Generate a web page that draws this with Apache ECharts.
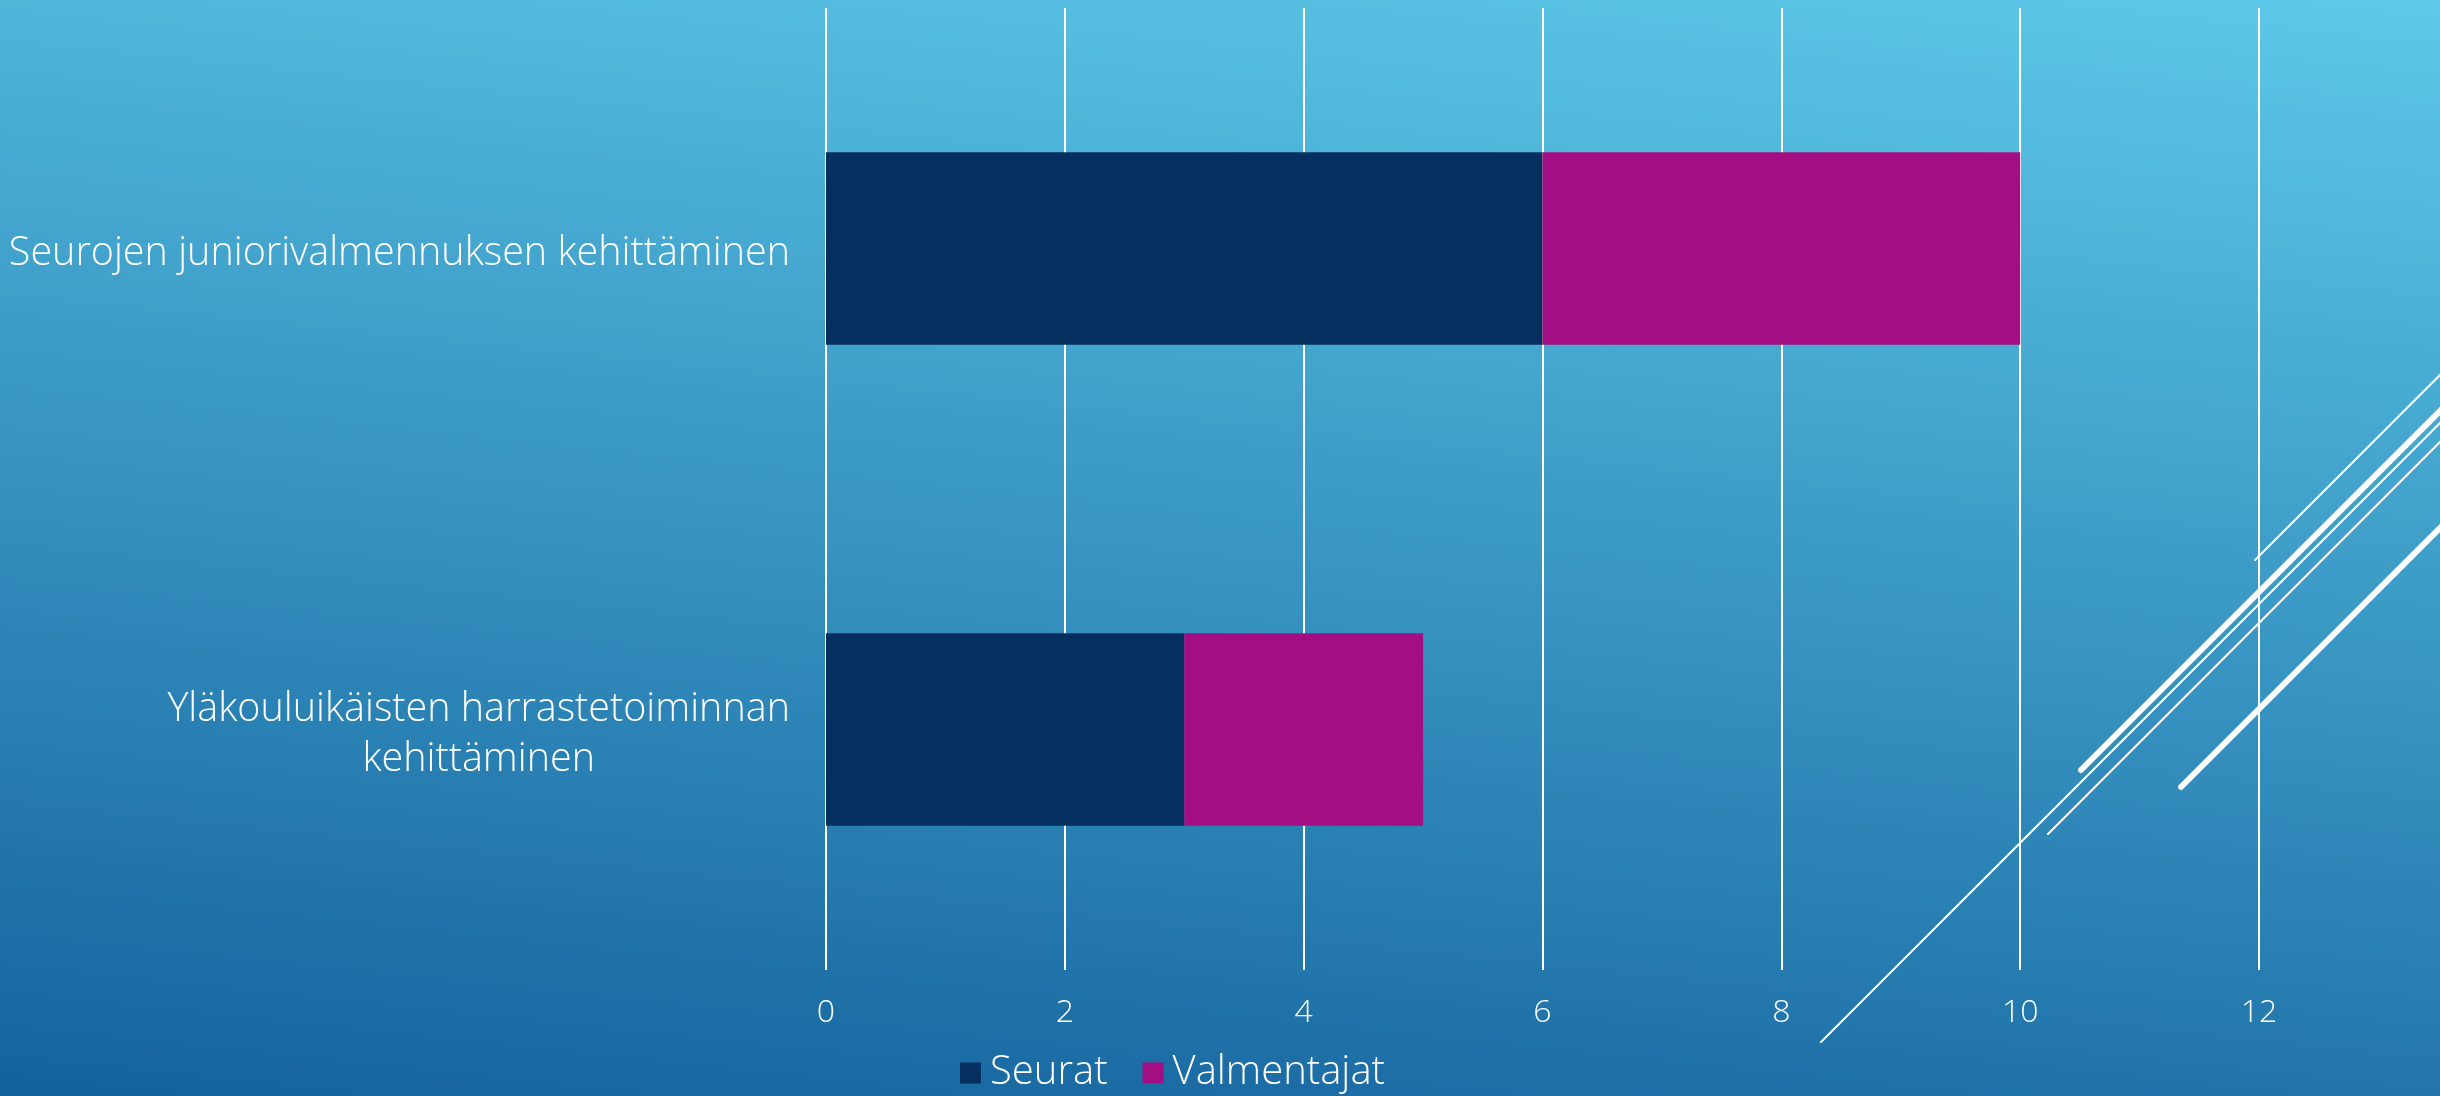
<!DOCTYPE html>
<html>
<head>
<meta charset="utf-8">
<title>Chart</title>
<script src="https://cdn.jsdelivr.net/npm/echarts@6/dist/echarts.min.js"></script>
<style>
  html, body { margin: 0; padding: 0; width: 2440px; height: 1096px; overflow: hidden; }
  #chart { width: 2440px; height: 1096px; }
</style>
</head>
<body>
<div id="chart"></div>
<script>
// ---- data ----
const categories = [
  'Seurojen juniorivalmennuksen kehittäminen',
  'Yläkouluikäisten harrastetoiminnan kehittäminen'
];
const seriesNames = ['Seurat', 'Valmentajat'];
const seuratValues = [6, 3];
const valmentajatValues = [4, 2];
const xMin = 0;
const xMax = 12;
const xInterval = 2;

// ---- styling ----
const FONT = '"Open Sans", "DejaVu Sans", sans-serif';
const WEIGHT = 300;
const colSeurat = '#052F5F';
const colValm = '#A30F82';

function wrapLabel(value) {
  const maxChars = 41;
  const words = value.split(' ');
  const lines = [];
  let cur = '';
  words.forEach(w => {
    const t = cur ? cur + ' ' + w : w;
    if (t.length > maxChars && cur) { lines.push(cur); cur = w; }
    else cur = t;
  });
  if (cur) lines.push(cur);
  return lines.map(l => '{c|' + l + '}').join('\n');
}

const chart = echarts.init(document.getElementById('chart'), null, { renderer: 'canvas' });

const decoLine = (x1, y1, x2, y2, w) => ({
  type: 'line',
  silent: true,
  z: 50,
  shape: { x1: x1, y1: y1, x2: x2, y2: y2 },
  style: { stroke: '#ffffff', lineWidth: w, lineCap: 'round' }
});

chart.setOption({
  animation: false,
  backgroundColor: new echarts.graphic.LinearGradient(1, 0, 0.942, 1.221, [
    { offset: 0, color: '#5DC9E8' },
    { offset: 1, color: '#14629D' }
  ]),
  textStyle: { fontFamily: FONT },
  grid: { left: 826, right: 181, top: 8, bottom: 126, containLabel: false },
  legend: {
    data: seriesNames,
    left: 960,
    top: 1053,
    padding: 0,
    itemWidth: 21,
    itemHeight: 21,
    itemGap: 35,
    icon: 'rect',
    textStyle: { color: '#ffffff', fontSize: 40, fontFamily: FONT, fontWeight: WEIGHT, lineHeight: 40, padding: [0, 0, 0, 4] }
  },
  xAxis: {
    type: 'value',
    min: xMin,
    max: xMax,
    interval: xInterval,
    axisLine: { show: false },
    axisTick: { show: false },
    axisLabel: { color: '#ffffff', fontSize: 32, fontFamily: FONT, fontWeight: WEIGHT, margin: 27 },
    splitLine: { show: true, lineStyle: { color: '#ffffff', width: 2 } }
  },
  yAxis: {
    type: 'category',
    data: categories,
    inverse: true,
    axisLine: { show: false },
    axisTick: { show: false },
    splitLine: { show: false },
    axisLabel: {
      color: '#ffffff',
      margin: 36,
      align: 'right',
      padding: [10, 0, 0, 0],
      formatter: wrapLabel,
      rich: {
        c: { color: '#ffffff', fontSize: 39.5, lineHeight: 50, fontFamily: FONT, fontWeight: WEIGHT, align: 'center' }
      }
    }
  },
  series: [
    {
      name: seriesNames[0],
      type: 'bar',
      stack: 'total',
      barWidth: '40%',
      data: seuratValues,
      itemStyle: { color: colSeurat },
      emphasis: { disabled: true }
    },
    {
      name: seriesNames[1],
      type: 'bar',
      stack: 'total',
      barWidth: '40%',
      data: valmentajatValues,
      itemStyle: { color: colValm },
      emphasis: { disabled: true }
    }
  ],
  graphic: [
    decoLine(1821, 1042, 2500, 363, 2),
    decoLine(2081, 770, 2500, 351, 6),
    decoLine(2048, 834, 2500, 382, 2),
    decoLine(2255, 560, 2500, 315, 2),
    decoLine(2181, 787, 2500, 468, 6)
  ]
});
</script>
</body>
</html>
